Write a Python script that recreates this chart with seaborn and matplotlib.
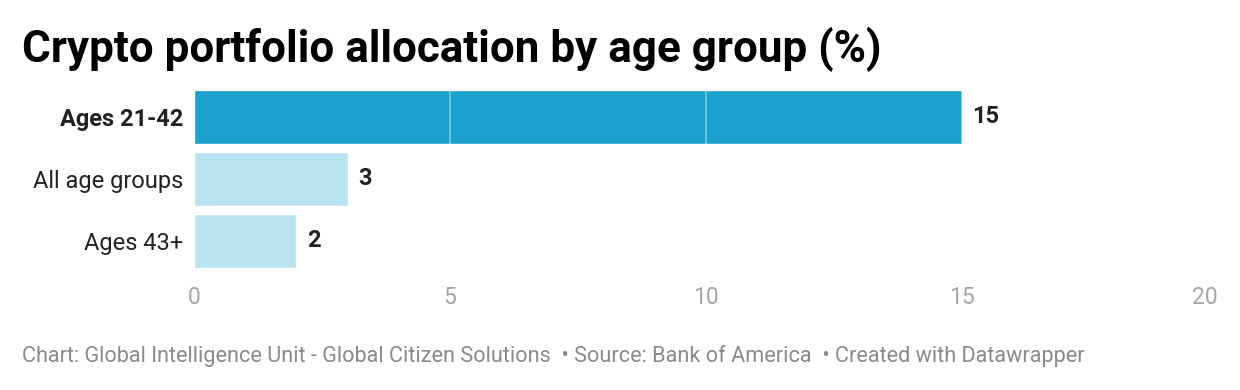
import matplotlib
matplotlib.use("Agg")
import matplotlib.pyplot as plt
import seaborn as sns
import pandas as pd

# data
groups = ["Ages 21-42", "All age groups", "Ages 43+"]
allocation = [15, 3, 2]
bar_colors = ["#1aa1cd", "#bae3f1", "#bae3f1"]
x_ticks = [0, 5, 10, 15, 20]

df = pd.DataFrame({"group": groups, "allocation": allocation})

sns.set_style("white")
plt.rcParams["font.family"] = ["Roboto", "DejaVu Sans"]

fig = plt.figure(figsize=(12.4, 3.9), dpi=100)
ax = fig.add_axes([0.1565, 0.3026, 0.8258, 0.4769])

sns.barplot(data=df, x="allocation", y="group", hue="group",
            palette=bar_colors, legend=False, width=0.87,
            saturation=1, ax=ax, zorder=2)

# light grid lines running over the bars
for t in x_ticks[1:-1]:
    ax.axvline(t, color="white", alpha=0.35, lw=1.5, zorder=3)

ax.set_xlim(0, 20)
ax.set_ylim(2.5, -0.5)
ax.set_xticks(x_ticks)
ax.set_xticklabels([str(t) for t in x_ticks], fontsize=16.5, color="#a6a6a6")
ax.get_xticklabels()[-1].set_ha("right")
ax.tick_params(axis="x", length=0, pad=10)
ax.tick_params(axis="y", length=0, pad=8)
ax.set_yticks(range(len(groups)))
ax.set_yticklabels(groups, fontsize=17, color="#222222")
ax.get_yticklabels()[0].set_fontweight("bold")
ax.set_xlabel("")
ax.set_ylabel("")
sns.despine(ax=ax, left=True, bottom=True)

for i, v in enumerate(allocation):
    ax.text(v + 0.2, i, str(v), va="center", ha="left",
            fontsize=17, fontweight="bold", color="#222222")

fig.text(0.0177, 0.872, "Crypto portfolio allocation by age group (%)",
         fontsize=31.7, fontweight="bold", color="black", va="center")
fig.text(0.0177, 0.087,
         "Chart: Global Intelligence Unit - Global Citizen Solutions  \u2022 Source: Bank of America  \u2022 Created with Datawrapper",
         fontsize=15.6, color="#8a8a8a", va="center")

fig.savefig("out.png", dpi=100)
plt.close()
